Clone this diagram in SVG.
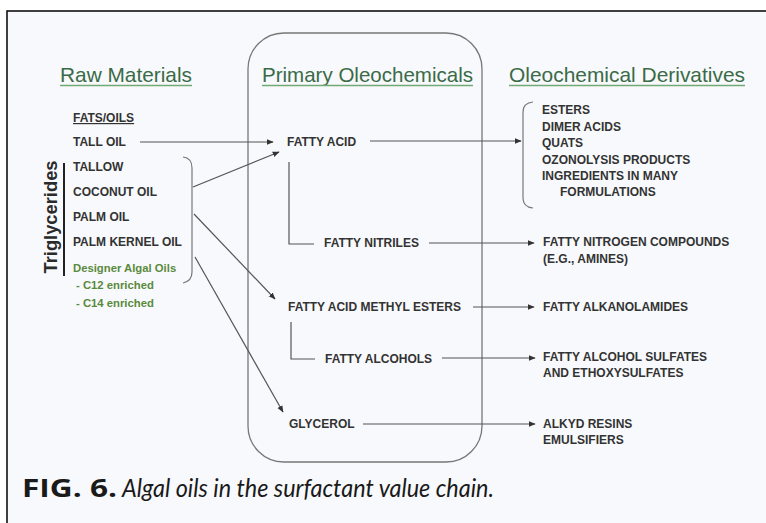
<svg xmlns="http://www.w3.org/2000/svg" width="766" height="523" viewBox="0 0 766 523">
<defs>
<style>
.hdr{font-family:"Liberation Sans",Arial,sans-serif;font-size:21px;fill:#3a6b47}
.ul{stroke:#6fa974;stroke-width:1.6}
.it{font-family:"Liberation Sans",Arial,sans-serif;font-size:12px;font-weight:bold;fill:#333}
.grn{font-family:"Liberation Sans",Arial,sans-serif;font-size:11.3px;font-weight:bold;fill:#5a8a3c}
.ln{stroke:#555;stroke-width:1.2;fill:none}
.br{stroke:#777;stroke-width:1.2;fill:none}
</style>
<marker id="ah" viewBox="0 0 10 10" refX="9" refY="5" markerWidth="7" markerHeight="7" orient="auto" markerUnits="userSpaceOnUse">
<path d="M0,1 L10,5 L0,9 Z" fill="#333"/>
</marker>
</defs>
<rect x="0" y="0" width="766" height="523" fill="#ffffff"/>
<rect x="7" y="11" width="770" height="520" fill="#f8f9fc" stroke="#111" stroke-width="1.6"/>
<rect id="primary-box" x="248" y="33" width="234" height="429" rx="36" ry="36" fill="none" stroke="#777" stroke-width="1.3"/>

<g id="headers">
<text class="hdr" x="60" y="82" textLength="132" lengthAdjust="spacingAndGlyphs">Raw Materials</text>
<line class="ul" x1="60" y1="85.5" x2="192" y2="85.5"/>
<text class="hdr" x="262" y="82" textLength="211" lengthAdjust="spacingAndGlyphs">Primary Oleochemicals</text>
<line class="ul" x1="262" y1="85.5" x2="473" y2="85.5"/>
<text class="hdr" x="509" y="82" textLength="236" lengthAdjust="spacingAndGlyphs">Oleochemical Derivatives</text>
<line class="ul" x1="509" y1="85.5" x2="745" y2="85.5"/>
</g>

<g id="raw-materials">
<text class="it" x="73" y="122" text-decoration="underline">FATS/OILS</text>
<text class="it" x="73" y="146">TALL OIL</text>
<text class="it" x="73" y="171">TALLOW</text>
<text class="it" x="73" y="196">COCONUT OIL</text>
<text class="it" x="73" y="221">PALM OIL</text>
<text class="it" x="73" y="246">PALM KERNEL OIL</text>
<text class="grn" x="73" y="272">Designer Algal Oils</text>
<text class="grn" x="76" y="289">- C12 enriched</text>
<text class="grn" x="76" y="307">- C14 enriched</text>
</g>

<g id="triglycerides">
<text transform="translate(57,217) rotate(-90)" text-anchor="middle" font-family="Liberation Sans, Arial, sans-serif" font-size="18px" font-weight="bold" fill="#2a2a2a" textLength="113" lengthAdjust="spacingAndGlyphs">Triglycerides</text>
<line x1="64" y1="163" x2="64" y2="276" stroke="#222" stroke-width="2"/>
<path class="br" d="M183,157 Q192,158 192,168 L192,272 Q192,281 183,283"/>
</g>

<g id="fatty-acid"><text class="it" x="287" y="146">FATTY ACID</text></g>
<g id="fatty-nitriles"><text class="it" x="324" y="247">FATTY NITRILES</text></g>
<g id="fame"><text class="it" x="288" y="311">FATTY ACID METHYL ESTERS</text></g>
<g id="fatty-alcohols"><text class="it" x="325" y="363">FATTY ALCOHOLS</text></g>
<g id="glycerol"><text class="it" x="289" y="428">GLYCEROL</text></g>

<g id="derivatives-list">
<path class="br" d="M533,102 Q523,103 523,112 L523,198 Q523,207 533,208"/>
<text class="it" x="542" y="114">ESTERS</text>
<text class="it" x="542" y="131">DIMER ACIDS</text>
<text class="it" x="542" y="147">QUATS</text>
<text class="it" x="542" y="164">OZONOLYSIS PRODUCTS</text>
<text class="it" x="542" y="180">INGREDIENTS IN MANY</text>
<text class="it" x="560" y="196">FORMULATIONS</text>
</g>
<g id="nitrogen-compounds">
<text class="it" x="543" y="246">FATTY NITROGEN COMPOUNDS</text>
<text class="it" x="543" y="263">(E.G., AMINES)</text>
</g>
<g id="alkanolamides"><text class="it" x="543" y="311">FATTY ALKANOLAMIDES</text></g>
<g id="alcohol-sulfates">
<text class="it" x="543" y="361">FATTY ALCOHOL SULFATES</text>
<text class="it" x="543" y="377">AND ETHOXYSULFATES</text>
</g>
<g id="alkyd">
<text class="it" x="543" y="428">ALKYD RESINS</text>
<text class="it" x="543" y="444">EMULSIFIERS</text>
</g>

<g id="connectors">
<line class="ln" x1="140" y1="142" x2="273" y2="142" marker-end="url(#ah)"/>
<line class="ln" x1="193" y1="187" x2="279" y2="152" marker-end="url(#ah)"/>
<line class="ln" x1="194" y1="214" x2="275" y2="299" marker-end="url(#ah)"/>
<line class="ln" x1="195" y1="257" x2="283" y2="412" marker-end="url(#ah)"/>
<line class="ln" x1="370" y1="141" x2="521" y2="141" marker-end="url(#ah)"/>
<polyline class="ln" points="289,162 289,244 314,244"/>
<line class="ln" x1="429" y1="243" x2="534" y2="243" marker-end="url(#ah)"/>
<line class="ln" x1="473" y1="307" x2="534" y2="307" marker-end="url(#ah)"/>
<polyline class="ln" points="291,322 291,359 315,359"/>
<line class="ln" x1="442" y1="358" x2="535" y2="358" marker-end="url(#ah)"/>
<line class="ln" x1="363" y1="424" x2="535" y2="424" marker-end="url(#ah)"/>
</g>

<g id="caption">
<text x="22" y="497" font-family="'Open Sans', Lato, sans-serif" font-size="25px" font-weight="bold" fill="#1a1a1a" textLength="95" lengthAdjust="spacingAndGlyphs">FIG. 6.</text>
<text x="122" y="497" font-family="Lato, 'Open Sans', sans-serif" font-size="26px" font-style="italic" fill="#1a1a1a" textLength="372" lengthAdjust="spacingAndGlyphs">Algal oils in the surfactant value chain.</text>
</g>
</svg>
